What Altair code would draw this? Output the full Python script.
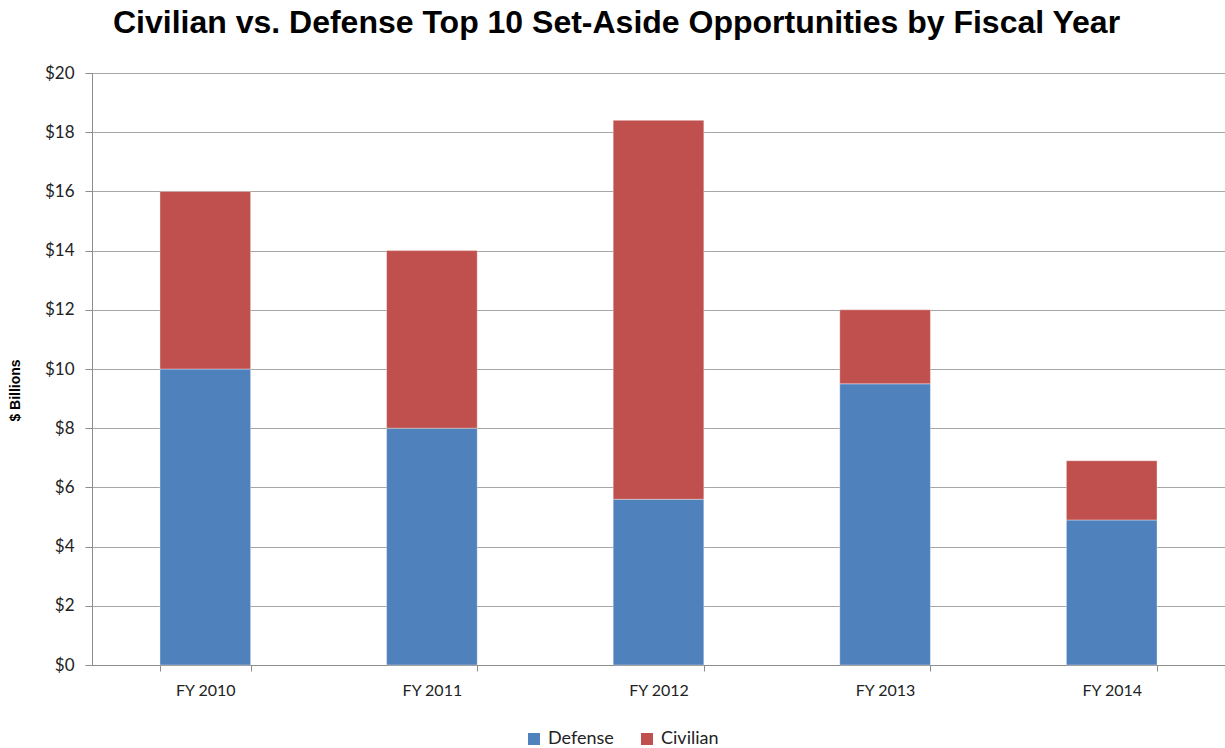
import altair as alt
import pandas as pd

years = ["FY 2010", "FY 2011", "FY 2012", "FY 2013", "FY 2014"]
defense = [10.0, 8.0, 5.6, 9.5, 4.9]
civilian = [6.0, 6.0, 12.8, 2.5, 2.0]
series = ["Defense", "Civilian"]
colors = ["#4F81BD", "#C0504D"]
y_ticks = [0, 2, 4, 6, 8, 10, 12, 14, 16, 18, 20]

rows = []
for i, y in enumerate(years):
    rows.append({"year": y, "series": "Defense", "value": defense[i], "order": 0})
    rows.append({"year": y, "series": "Civilian", "value": civilian[i], "order": 1})
df = pd.DataFrame(rows)

font = "Lato"

chart = alt.Chart(df).mark_bar(stroke="white", strokeWidth=0.6, strokeOpacity=0.6).encode(
    x=alt.X("year:N", sort=years, title=None,
            scale=alt.Scale(paddingInner=0.6, paddingOuter=0.3),
            axis=alt.Axis(labelAngle=0, labelFont=font, labelFontSize=16, labelColor="#222",
                          domainColor="#8c8c8c", tickColor="#8c8c8c", tickBand="extent",
                          tickSize=6, labelPadding=11, grid=False)),
    y=alt.Y("value:Q", stack="zero", title="$ Billions",
            scale=alt.Scale(domain=[0, 20], nice=False),
            axis=alt.Axis(values=y_ticks, labelExpr="'$' + datum.value", labelFont=font,
                          labelFontSize=17, labelColor="#222", domainColor="#8c8c8c",
                          tickColor="#8c8c8c", tickSize=7, labelPadding=11,
                          gridColor="#a6a6a6", gridWidth=1.2,
                          titleFont="Liberation Sans", titleFontSize=14, titleFontWeight="bold",
                          titleColor="#000", titleAngle=270, titleBaseline="middle",
                          titleAlign="center", titleX=-77, titleY=317)),
    color=alt.Color("series:N", sort=series,
                    scale=alt.Scale(domain=series, range=colors),
                    legend=alt.Legend(title=None, orient="none", direction="horizontal",
                                      legendX=433, legendY=657, symbolType="square",
                                      symbolSize=144, symbolStrokeWidth=0, labelFont=font,
                                      labelFontSize=18, labelColor="#222", columnPadding=24,
                                      symbolOffset=0, labelOffset=5)),
    order=alt.Order("order:Q"),
).properties(
    width=1133, height=592,
    title=alt.TitleParams("Civilian vs. Defense Top 10 Set-Aside Opportunities by Fiscal Year",
                          font="Liberation Sans", fontSize=32, fontWeight="bold", color="#000",
                          anchor="middle", frame="bounds", offset=24),
    padding={"left": 92, "top": 73, "right": 0, "bottom": 83},
    autosize=alt.AutoSizeParams(type="none"),
).configure_view(stroke=None).configure(background="white")

chart.save("out.html", embed_options={"renderer": "svg", "actions": False})
